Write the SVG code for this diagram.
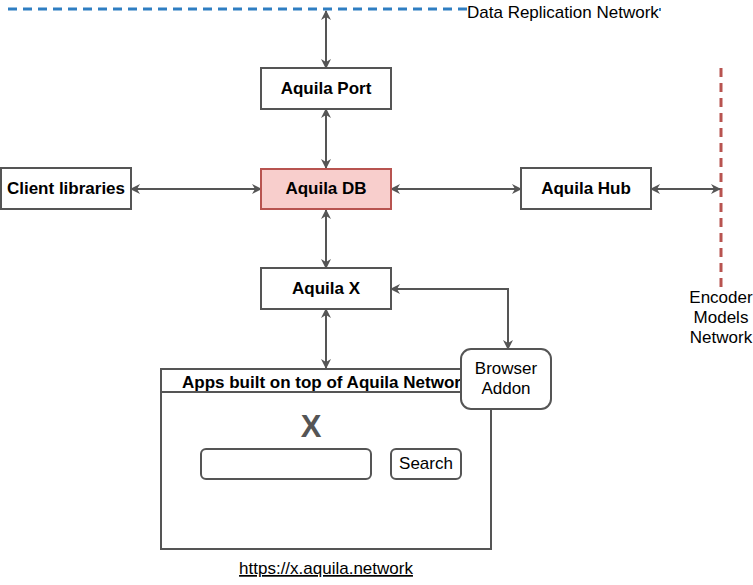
<svg xmlns="http://www.w3.org/2000/svg" width="753" height="585" viewBox="0 0 753 585">
<defs>
<marker id="ah" viewBox="0 0 10 10" refX="9" refY="5" markerWidth="10" markerHeight="10" markerUnits="userSpaceOnUse" orient="auto-start-reverse">
<path d="M0,0 L10,5 L0,10 L3,5 Z" fill="#555"/>
</marker>
<style>
.box{fill:#fff;stroke:#555;stroke-width:2}
.b{font-family:"Liberation Sans",Arial,sans-serif;font-size:17px;font-weight:bold;fill:#000;text-anchor:middle}
.t{font-family:"Liberation Sans",Arial,sans-serif;font-size:17px;fill:#000;text-anchor:middle}
.c{fill:none;stroke:#555;stroke-width:2;marker-start:url(#ah);marker-end:url(#ah)}
</style>
</defs>
<rect width="753" height="585" fill="#fff"/>
<g id="replication-network">
<line x1="8" y1="9" x2="467" y2="9" stroke="#2f7ec2" stroke-width="3" stroke-dasharray="9,6"/>
<text x="467" y="18" font-family="'Liberation Sans',Arial,sans-serif" font-size="17px" fill="#000">Data Replication Network</text>
<rect x="659" y="8" width="2" height="3" fill="#2f7ec2"/>
</g>
<g id="encoder-network">
<line x1="721" y1="68" x2="721" y2="290" stroke="#b85450" stroke-width="3" stroke-dasharray="9,6"/>
<text class="t" x="721" y="303">Encoder</text>
<text class="t" x="721" y="323">Models</text>
<text class="t" x="721" y="343">Network</text>
</g>
<g id="connectors">
<line class="c" x1="326" y1="68" x2="326" y2="11"/>
<line class="c" x1="326" y1="168" x2="326" y2="109"/>
<line class="c" x1="131" y1="189" x2="261" y2="189"/>
<line class="c" x1="391" y1="189" x2="521" y2="189"/>
<line class="c" x1="651" y1="189" x2="720" y2="189"/>
<line class="c" x1="326" y1="268" x2="326" y2="210"/>
<line class="c" x1="326" y1="368" x2="326" y2="309"/>
<path class="c" d="M391,289 L508,289 L508,349"/>
</g>
<g id="aquila-port">
<rect class="box" x="261" y="68" width="130" height="41"/>
<text class="b" x="326" y="94">Aquila Port</text>
</g>
<g id="aquila-db">
<rect x="261" y="169" width="130" height="40" fill="#f8cecc" stroke="#b85450" stroke-width="2"/>
<text class="b" x="326" y="194">Aquila DB</text>
</g>
<g id="client-libraries">
<rect class="box" x="1" y="168" width="130" height="41"/>
<text class="b" x="66" y="194">Client libraries</text>
</g>
<g id="aquila-hub">
<rect class="box" x="521" y="168" width="130" height="41"/>
<text class="b" x="586" y="194">Aquila Hub</text>
</g>
<g id="aquila-x">
<rect class="box" x="261" y="268" width="130" height="41"/>
<text class="b" x="326" y="294">Aquila X</text>
</g>
<g id="apps">
<rect class="box" x="161" y="369" width="330" height="180"/>
<line x1="161" y1="392" x2="491" y2="392" stroke="#555" stroke-width="2"/>
<text x="182" y="388" font-family="'Liberation Sans',Arial,sans-serif" font-size="17px" font-weight="bold" fill="#000">Apps built on top of Aquila Network</text>
<text x="311" y="437" font-family="'Liberation Sans',Arial,sans-serif" font-size="31px" font-weight="bold" fill="#555" text-anchor="middle">X</text>
<rect x="201" y="449" width="170" height="30" rx="5" fill="#fff" stroke="#555" stroke-width="2"/>
<rect x="391" y="449" width="70" height="30" rx="5" fill="#fff" stroke="#555" stroke-width="2"/>
<text class="t" x="426" y="469">Search</text>
<text class="t" x="326" y="574" text-decoration="underline">https://x.aquila.network</text>
</g>
<g id="browser-addon">
<rect x="461" y="349" width="90" height="60" rx="10" fill="#fff" stroke="#555" stroke-width="2"/>
<text class="t" x="506" y="374">Browser</text>
<text class="t" x="506" y="394">Addon</text>
</g>
</svg>
